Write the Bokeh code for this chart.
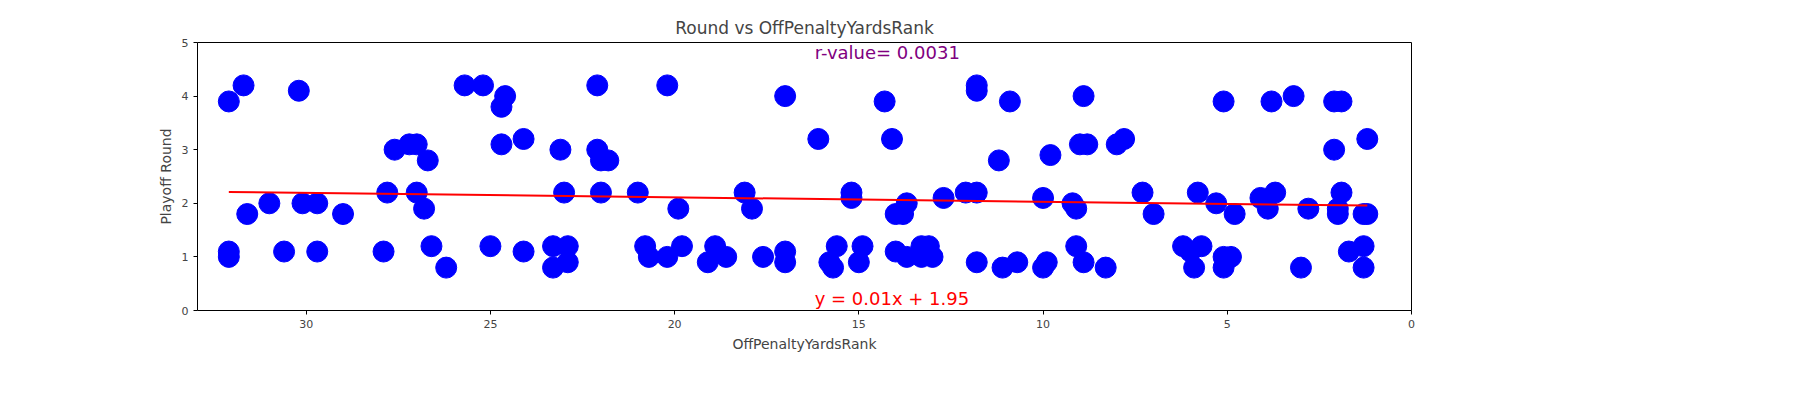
import numpy as np
from bokeh.plotting import figure
from bokeh.models import Range1d, FixedTicker, Title
from bokeh.core.properties import value
from bokeh.embed import file_html
from bokeh.resources import INLINE

# OffPenaltyYardsRank vs Playoff Round
rank = [32.1, 32.1, 32.1, 31.7, 31.6, 31.0, 30.6, 30.2, 30.1, 29.7, 29.7, 29.0,
        27.9, 27.8, 27.6, 27.2, 27.0, 27.0, 26.8, 26.7, 26.6, 26.2, 25.7, 25.2,
        25.0, 24.7, 24.6, 24.7, 24.1, 24.1, 23.3, 23.3, 23.1, 23.0, 22.9, 22.9,
        22.1, 22.1, 22.0, 22.0, 21.8, 21.0, 20.8, 20.7, 20.2, 20.2, 19.9, 19.8,
        19.1, 18.9, 18.6, 18.1, 17.9, 17.6, 17.0, 17.0, 17.0, 16.1, 15.8, 15.7,
        15.6, 15.2, 15.2, 15.0, 14.9, 14.3, 14.1, 14.0, 14.0, 13.8, 13.7, 13.7,
        13.3, 13.3, 13.1, 13.0, 12.7, 12.1, 11.8, 11.8, 11.8, 11.8, 11.2, 11.1,
        10.9, 10.7, 10.0, 10.0, 9.9, 9.8, 9.2, 9.1, 9.1, 9.0, 8.9, 8.9, 8.8,
        8.3, 8.0, 7.8, 7.3, 7.0, 6.2, 6.0, 5.9, 5.8, 5.7, 5.3, 5.1, 5.1, 5.1,
        4.9, 4.8, 4.1, 3.9, 3.8, 3.7, 3.2, 3.0, 2.8, 2.1, 2.1, 2.0, 2.0, 1.9,
        1.9, 1.7, 1.3, 1.3, 1.3, 1.2, 1.2]
playoff_round = [3.9, 1.1, 1.0, 4.2, 1.8, 2.0, 1.1, 4.1, 2.0, 2.0, 1.1, 1.8,
                 1.1, 2.2, 3.0, 3.1, 3.1, 2.2, 1.9, 2.8, 1.2, 0.8, 4.2, 4.2,
                 1.2, 3.8, 4.0, 3.1, 1.1, 3.2, 1.2, 0.8, 3.0, 2.2, 1.2, 0.9,
                 4.2, 3.0, 2.8, 2.2, 2.8, 2.2, 1.2, 1.0, 4.2, 1.0, 1.9, 1.2,
                 0.9, 1.2, 1.0, 2.2, 1.9, 1.0, 1.1, 4.0, 0.9, 3.2, 0.9, 0.8,
                 1.2, 2.2, 2.1, 0.9, 1.2, 3.9, 3.2, 1.8, 1.1, 1.8, 2.0, 1.0,
                 1.2, 1.0, 1.2, 1.0, 2.1, 2.2, 2.2, 4.2, 4.1, 0.9, 2.8, 0.8,
                 3.9, 0.9, 2.1, 0.8, 0.9, 2.9, 2.0, 1.9, 1.2, 3.1, 0.9, 4.0, 3.1,
                 0.8, 3.1, 3.2, 2.2, 1.8, 1.2, 1.1, 0.8, 2.2, 1.2, 2.0, 3.9, 1.0, 0.8,
                 1.0, 1.8, 2.1, 1.9, 3.9, 2.2, 4.0, 0.8, 1.9, 3.9, 3.0, 1.9, 1.8, 3.9,
                 2.2, 1.1, 1.8, 1.2, 0.8, 3.2, 1.8]
x_ticks = [0, 5, 10, 15, 20, 25, 30]
y_ticks = [0, 1, 2, 3, 4, 5]
r_label = "r-value= 0.0031"
eq_label = "y = 0.01x + 1.95"

slope, intercept = np.polyfit(rank, playoff_round, 1)
fit_x = [max(rank), min(rank)]
fit_y = [slope * v + intercept for v in fit_x]

p = figure(width=1568, height=360, output_backend="svg", toolbar_location=None,
           x_range=Range1d(32.95, 0), y_range=Range1d(0, 5),
           min_border_left=197, min_border_right=157, min_border_top=42,
           min_border_bottom=50)
p.title = Title(text="Round vs OffPenaltyYardsRank", align="center",
                text_font="DejaVu Sans", text_font_size="17px",
                text_font_style="normal")
p.xgrid.visible = False
p.ygrid.visible = False
p.outline_line_color = "black"

p.scatter(rank, playoff_round, size=21, color="blue")
p.line(fit_x, fit_y, line_color="red", line_width=2)
p.text([16.2], [4.62], text=[r_label], text_color="purple",
       text_font=value("DejaVu Sans"), text_font_size="18px")
p.text([16.2], [0.02], text=[eq_label], text_color="red",
       text_font=value("DejaVu Sans"), text_font_size="18px")

for ax, lab, ticks in ((p.xaxis, "OffPenaltyYardsRank", x_ticks),
                       (p.yaxis, "Playoff Round", y_ticks)):
    ax.axis_label = lab
    ax.ticker = FixedTicker(ticks=ticks)
    ax.minor_tick_line_color = None
    ax.axis_label_text_font = "DejaVu Sans"
    ax.axis_label_text_font_style = "normal"
    ax.axis_label_text_font_size = "14px"
    ax.major_label_text_font = "DejaVu Sans"
    ax.major_label_text_font_size = "11px"
    ax.axis_line_color = None
    ax.major_tick_in = 0
    ax.major_tick_out = 4

open("out.html", "w").write(file_html(p, INLINE))
